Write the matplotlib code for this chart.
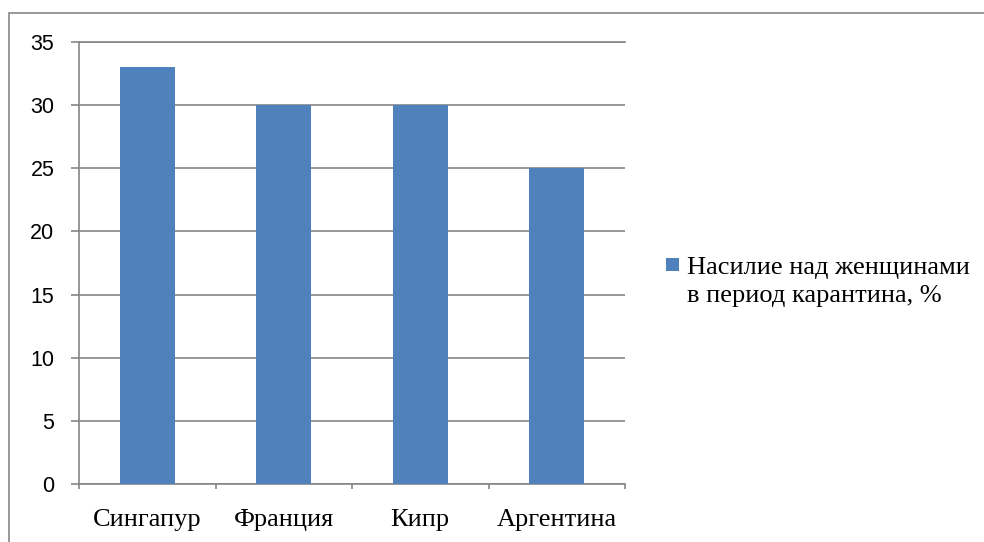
import matplotlib.pyplot as plt
from matplotlib.patches import Rectangle, Patch
from matplotlib.legend_handler import HandlerPatch

categories = ["Сингапур", "Франция", "Кипр", "Аргентина"]
values = [33, 30, 30, 25]
series_name = "Насилие над женщинами\nв период карантина, %"
y_ticks = [0, 5, 10, 15, 20, 25, 30, 35]

W, H = 984, 542
fig = plt.figure(figsize=(W / 100, H / 100), dpi=100)

# outer chart frame (runs off the right and bottom edges)
fig.patches.append(Rectangle((9 / W, -0.05), 1.2, 1 - 13 / H + 0.05,
                             transform=fig.transFigure, fill=False,
                             edgecolor="#868686", linewidth=1.2))

left, right, top, bottom = 79, 625, 42, 484
ax = fig.add_axes([left / W, 1 - bottom / H, (right - left) / W, (bottom - top) / H])

bar_color = "#4F81BD"
grid_color = "#868686"
x = list(range(len(categories)))
ax.bar(x, values, width=0.4, color=bar_color, zorder=3)

ax.set_xlim(-0.5, len(categories) - 0.5)
ax.set_ylim(0, 35)
ax.set_yticks(y_ticks)
ax.set_yticklabels([str(t) for t in y_ticks], fontsize=15.5, family="Liberation Sans")
ax.yaxis.grid(True, color=grid_color, linewidth=1.2, zorder=0)
ax.set_axisbelow(True)

ax.set_xticks([i - 0.5 for i in range(len(categories) + 1)])
ax.set_xticklabels([])
ax.set_xticks(x, minor=True)
ax.set_xticklabels(categories, minor=True, fontsize=19, family="Liberation Serif")
ax.tick_params(axis="x", which="minor", length=0, pad=18)
ax.tick_params(axis="x", which="major", length=3.6, color=grid_color, width=1.2)
ax.tick_params(axis="y", length=5.8, color=grid_color, width=1.2, pad=12)

for side in ["top", "right"]:
    ax.spines[side].set_visible(False)
for side in ["left", "bottom"]:
    ax.spines[side].set_color(grid_color)
    ax.spines[side].set_linewidth(1.2)

ax.axhline(35, color=grid_color, linewidth=1.2, zorder=0, clip_on=False)


def first_line_square(legend, orig_handle, xdescent, ydescent, width, height, fontsize):
    # square key aligned with the first line of the two-line label
    s = 0.48 * fontsize
    return Rectangle((-xdescent, -ydescent + height / 2 - s / 2 + 0.62 * fontsize), s, s)


handle = Patch(facecolor=bar_color, edgecolor="none")
leg = fig.legend([handle], [series_name], loc="center left",
                 bbox_to_anchor=(653 / W, 1 - 282 / H), frameon=False,
                 prop={"family": "Liberation Serif", "size": 19},
                 handlelength=0.48, handleheight=0.48, handletextpad=0.3,
                 borderpad=0, labelspacing=0,
                 handler_map={Patch: HandlerPatch(patch_func=first_line_square)})
for t in leg.get_texts():
    t.set_linespacing(1.3)

fig.savefig("out.png", dpi=100)
